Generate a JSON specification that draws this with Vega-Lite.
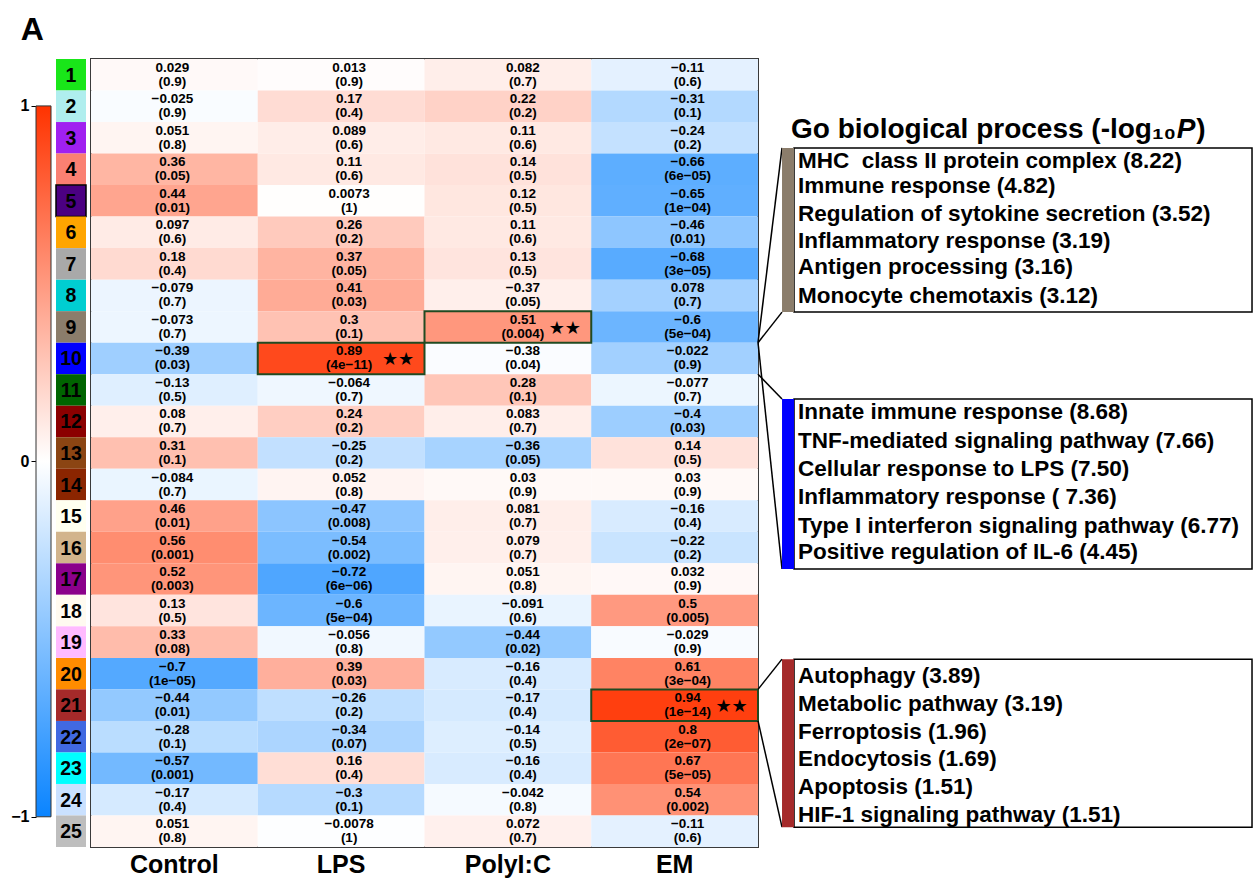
{
  "$schema": "https://vega.github.io/schema/vega-lite/v6.json",
  "background": "white",
  "padding": {"left": 10, "top": 14, "right": 0, "bottom": 0},
  "title": {"text": "A", "anchor": "start", "fontSize": 32, "fontWeight": "bold", "font": "Liberation Sans", "color": "black", "offset": 10, "dx": 10, "dy": -1},
  "config": {"view": {"stroke": null}, "font": "Liberation Sans"},
  "datasets": {
    "cells": [
      {"m":1,"c":"Control","r":0.029,"v":0.029,"p":"(0.9)"},{"m":1,"c":"LPS","r":0.013,"v":0.013,"p":"(0.9)"},{"m":1,"c":"PolyI:C","r":0.082,"v":0.082,"p":"(0.7)"},{"m":1,"c":"EM","r":-0.11,"v":-0.11,"p":"(0.6)"},
      {"m":2,"c":"Control","r":-0.025,"v":-0.025,"p":"(0.9)"},{"m":2,"c":"LPS","r":0.17,"v":0.17,"p":"(0.4)"},{"m":2,"c":"PolyI:C","r":0.22,"v":0.22,"p":"(0.2)"},{"m":2,"c":"EM","r":-0.31,"v":-0.31,"p":"(0.1)"},
      {"m":3,"c":"Control","r":0.051,"v":0.051,"p":"(0.8)"},{"m":3,"c":"LPS","r":0.089,"v":0.089,"p":"(0.6)"},{"m":3,"c":"PolyI:C","r":0.11,"v":0.11,"p":"(0.6)"},{"m":3,"c":"EM","r":-0.24,"v":-0.24,"p":"(0.2)"},
      {"m":4,"c":"Control","r":0.36,"v":0.36,"p":"(0.05)"},{"m":4,"c":"LPS","r":0.11,"v":0.11,"p":"(0.6)"},{"m":4,"c":"PolyI:C","r":0.14,"v":0.14,"p":"(0.5)"},{"m":4,"c":"EM","r":-0.66,"v":-0.66,"p":"(6e−05)"},
      {"m":5,"c":"Control","r":0.44,"v":0.44,"p":"(0.01)"},{"m":5,"c":"LPS","r":0.0073,"v":0.0073,"p":"(1)"},{"m":5,"c":"PolyI:C","r":0.12,"v":0.12,"p":"(0.5)"},{"m":5,"c":"EM","r":-0.65,"v":-0.65,"p":"(1e−04)"},
      {"m":6,"c":"Control","r":0.097,"v":0.097,"p":"(0.6)"},{"m":6,"c":"LPS","r":0.26,"v":0.26,"p":"(0.2)"},{"m":6,"c":"PolyI:C","r":0.11,"v":0.11,"p":"(0.6)"},{"m":6,"c":"EM","r":-0.46,"v":-0.46,"p":"(0.01)"},
      {"m":7,"c":"Control","r":0.18,"v":0.18,"p":"(0.4)"},{"m":7,"c":"LPS","r":0.37,"v":0.37,"p":"(0.05)"},{"m":7,"c":"PolyI:C","r":0.13,"v":0.13,"p":"(0.5)"},{"m":7,"c":"EM","r":-0.68,"v":-0.68,"p":"(3e−05)"},
      {"m":8,"c":"Control","r":-0.079,"v":-0.079,"p":"(0.7)"},{"m":8,"c":"LPS","r":0.41,"v":0.41,"p":"(0.03)"},{"m":8,"c":"PolyI:C","r":-0.37,"v":0.078,"p":"(0.05)"},{"m":8,"c":"EM","r":0.078,"v":-0.37,"p":"(0.7)"},
      {"m":9,"c":"Control","r":-0.073,"v":-0.073,"p":"(0.7)"},{"m":9,"c":"LPS","r":0.3,"v":0.3,"p":"(0.1)"},{"m":9,"c":"PolyI:C","r":0.51,"v":0.51,"p":"(0.004)","s":1},{"m":9,"c":"EM","r":-0.6,"v":-0.6,"p":"(5e−04)"},
      {"m":10,"c":"Control","r":-0.39,"v":-0.39,"p":"(0.03)"},{"m":10,"c":"LPS","r":0.89,"v":0.89,"p":"(4e−11)","s":1},{"m":10,"c":"PolyI:C","r":-0.38,"v":-0.022,"p":"(0.04)"},{"m":10,"c":"EM","r":-0.022,"v":-0.38,"p":"(0.9)"},
      {"m":11,"c":"Control","r":-0.13,"v":-0.13,"p":"(0.5)"},{"m":11,"c":"LPS","r":-0.064,"v":-0.064,"p":"(0.7)"},{"m":11,"c":"PolyI:C","r":0.28,"v":0.28,"p":"(0.1)"},{"m":11,"c":"EM","r":-0.077,"v":-0.077,"p":"(0.7)"},
      {"m":12,"c":"Control","r":0.08,"v":0.08,"p":"(0.7)"},{"m":12,"c":"LPS","r":0.24,"v":0.24,"p":"(0.2)"},{"m":12,"c":"PolyI:C","r":0.083,"v":0.083,"p":"(0.7)"},{"m":12,"c":"EM","r":-0.4,"v":-0.4,"p":"(0.03)"},
      {"m":13,"c":"Control","r":0.31,"v":0.31,"p":"(0.1)"},{"m":13,"c":"LPS","r":-0.25,"v":-0.25,"p":"(0.2)"},{"m":13,"c":"PolyI:C","r":-0.36,"v":-0.36,"p":"(0.05)"},{"m":13,"c":"EM","r":0.14,"v":0.14,"p":"(0.5)"},
      {"m":14,"c":"Control","r":-0.084,"v":-0.084,"p":"(0.7)"},{"m":14,"c":"LPS","r":0.052,"v":0.052,"p":"(0.8)"},{"m":14,"c":"PolyI:C","r":0.03,"v":0.03,"p":"(0.9)"},{"m":14,"c":"EM","r":0.03,"v":0.03,"p":"(0.9)"},
      {"m":15,"c":"Control","r":0.46,"v":0.46,"p":"(0.01)"},{"m":15,"c":"LPS","r":-0.47,"v":-0.47,"p":"(0.008)"},{"m":15,"c":"PolyI:C","r":0.081,"v":0.081,"p":"(0.7)"},{"m":15,"c":"EM","r":-0.16,"v":-0.16,"p":"(0.4)"},
      {"m":16,"c":"Control","r":0.56,"v":0.56,"p":"(0.001)"},{"m":16,"c":"LPS","r":-0.54,"v":-0.54,"p":"(0.002)"},{"m":16,"c":"PolyI:C","r":0.079,"v":0.079,"p":"(0.7)"},{"m":16,"c":"EM","r":-0.22,"v":-0.22,"p":"(0.2)"},
      {"m":17,"c":"Control","r":0.52,"v":0.52,"p":"(0.003)"},{"m":17,"c":"LPS","r":-0.72,"v":-0.72,"p":"(6e−06)"},{"m":17,"c":"PolyI:C","r":0.051,"v":0.051,"p":"(0.8)"},{"m":17,"c":"EM","r":0.032,"v":0.032,"p":"(0.9)"},
      {"m":18,"c":"Control","r":0.13,"v":0.13,"p":"(0.5)"},{"m":18,"c":"LPS","r":-0.6,"v":-0.6,"p":"(5e−04)"},{"m":18,"c":"PolyI:C","r":-0.091,"v":-0.091,"p":"(0.6)"},{"m":18,"c":"EM","r":0.5,"v":0.5,"p":"(0.005)"},
      {"m":19,"c":"Control","r":0.33,"v":0.33,"p":"(0.08)"},{"m":19,"c":"LPS","r":-0.056,"v":-0.056,"p":"(0.8)"},{"m":19,"c":"PolyI:C","r":-0.44,"v":-0.44,"p":"(0.02)"},{"m":19,"c":"EM","r":-0.029,"v":-0.029,"p":"(0.9)"},
      {"m":20,"c":"Control","r":-0.7,"v":-0.7,"p":"(1e−05)"},{"m":20,"c":"LPS","r":0.39,"v":0.39,"p":"(0.03)"},{"m":20,"c":"PolyI:C","r":-0.16,"v":-0.16,"p":"(0.4)"},{"m":20,"c":"EM","r":0.61,"v":0.61,"p":"(3e−04)"},
      {"m":21,"c":"Control","r":-0.44,"v":-0.44,"p":"(0.01)"},{"m":21,"c":"LPS","r":-0.26,"v":-0.26,"p":"(0.2)"},{"m":21,"c":"PolyI:C","r":-0.17,"v":-0.17,"p":"(0.4)"},{"m":21,"c":"EM","r":0.94,"v":0.94,"p":"(1e−14)","s":1},
      {"m":22,"c":"Control","r":-0.28,"v":-0.28,"p":"(0.1)"},{"m":22,"c":"LPS","r":-0.34,"v":-0.34,"p":"(0.07)"},{"m":22,"c":"PolyI:C","r":-0.14,"v":-0.14,"p":"(0.5)"},{"m":22,"c":"EM","r":0.8,"v":0.8,"p":"(2e−07)"},
      {"m":23,"c":"Control","r":-0.57,"v":-0.57,"p":"(0.001)"},{"m":23,"c":"LPS","r":0.16,"v":0.16,"p":"(0.4)"},{"m":23,"c":"PolyI:C","r":-0.16,"v":-0.16,"p":"(0.4)"},{"m":23,"c":"EM","r":0.67,"v":0.67,"p":"(5e−05)"},
      {"m":24,"c":"Control","r":-0.17,"v":-0.17,"p":"(0.4)"},{"m":24,"c":"LPS","r":-0.3,"v":-0.3,"p":"(0.1)"},{"m":24,"c":"PolyI:C","r":-0.042,"v":-0.042,"p":"(0.8)"},{"m":24,"c":"EM","r":0.54,"v":0.54,"p":"(0.002)"},
      {"m":25,"c":"Control","r":0.051,"v":0.051,"p":"(0.8)"},{"m":25,"c":"LPS","r":-0.0078,"v":-0.0078,"p":"(1)"},{"m":25,"c":"PolyI:C","r":0.072,"v":0.072,"p":"(0.7)"},{"m":25,"c":"EM","r":-0.11,"v":-0.11,"p":"(0.6)"}
    ],
    "links": [
      {"x":0,"y":9,"x2":4.82,"y2":2.82},
      {"x":0,"y":9,"x2":4.82,"y2":8.03},
      {"x":0,"y":10,"x2":4.82,"y2":10.79},
      {"x":0,"y":9,"x2":4.82,"y2":16.18},
      {"x":0,"y":20,"x2":4.82,"y2":19.04},
      {"x":0,"y":21,"x2":4.82,"y2":24.37}
    ],
    "boxes": [
      {"m":9,"bx":4.82,"x":7.23,"x2":99.2,"y":2.82,"y2":8.03},
      {"m":10,"bx":4.82,"x":7.23,"x2":99.2,"y":10.79,"y2":16.18},
      {"m":21,"bx":4.82,"x":7.23,"x2":99.2,"y":19.04,"y2":24.37}
    ],
    "terms": [
      {"x":8.03,"y":3.24,"t":"MHC\u00a0\u00a0class II protein complex (8.22)"},
      {"x":8.03,"y":4.03,"t":"Immune response (4.82)"},
      {"x":8.03,"y":4.92,"t":"Regulation of sytokine secretion (3.52)"},
      {"x":8.03,"y":5.77,"t":"Inflammatory response (3.19)"},
      {"x":8.03,"y":6.6,"t":"Antigen processing (3.16)"},
      {"x":8.03,"y":7.52,"t":"Monocyte chemotaxis (3.12)"},
      {"x":8.03,"y":11.2,"t":"Innate immune response (8.68)"},
      {"x":8.03,"y":12.12,"t":"TNF-mediated signaling pathway (7.66)"},
      {"x":8.03,"y":13.01,"t":"Cellular response to LPS (7.50)"},
      {"x":8.03,"y":13.9,"t":"Inflammatory response ( 7.36)"},
      {"x":8.03,"y":14.82,"t":"Type I interferon signaling pathway (6.77)"},
      {"x":8.03,"y":15.64,"t":"Positive regulation of IL-6 (4.45)"},
      {"x":8.03,"y":19.58,"t":"Autophagy (3.89)"},
      {"x":8.03,"y":20.46,"t":"Metabolic pathway (3.19)"},
      {"x":8.03,"y":21.35,"t":"Ferroptosis (1.96)"},
      {"x":8.03,"y":22.21,"t":"Endocytosis (1.69)"},
      {"x":8.03,"y":23.1,"t":"Apoptosis (1.51)"},
      {"x":8.03,"y":23.98,"t":"HIF-1 signaling pathway (1.51)"}
    ],
    "heading": [
      {"x":6.63,"y":2.25,"t":"Go biological process (-log₁₀"},
      {"x":88.0,"y":2.25,"t":")"}
    ],
    "headingItalic": [
      {"x":84.1,"y":2.25,"t":"P"}
    ]
  },
  "hconcat": [
    {
      "width": 15,
      "height": 788,
      "data": {"values": [{"lo": -1, "hi": 1}]},
      "mark": {"type": "rect", "stroke": "#333333", "strokeWidth": 1,
        "fill": {"gradient": "linear", "x1": 0, "y1": 0, "x2": 0, "y2": 1,
          "stops": [{"offset": 0, "color": "#FF3300"}, {"offset": 0.5, "color": "#FFFFFF"}, {"offset": 1, "color": "#0A84FF"}]}},
      "encoding": {
        "y": {"field": "hi", "type": "quantitative",
          "scale": {"domain": [-1.085, 1.132], "nice": false, "zero": false},
          "axis": {"values": [-1, 0, 1], "format": "d", "title": null, "grid": false, "domain": false,
            "tickColor": "black", "tickSize": 5, "labelFontSize": 16, "labelFontWeight": "bold",
            "labelColor": "black", "labelPadding": 2}},
        "y2": {"field": "lo"}
      }
    },
    {
      "width": 30,
      "height": 788,
      "data": {"name": "cells"},
      "transform": [{"filter": "datum.c === 'Control'"}],
      "encoding": {
        "y": {"field": "m", "type": "ordinal", "scale": {"paddingInner": 0, "paddingOuter": 0}, "axis": null}
      },
      "layer": [
        {
          "mark": {"type": "rect", "strokeWidth": 1.5},
          "encoding": {
            "color": {"field": "m", "type": "nominal", "legend": null,
              "scale": {"domain": [1,2,3,4,5,6,7,8,9,10,11,12,13,14,15,16,17,18,19,20,21,22,23,24,25],
                "range": ["#19E619","#AFEEEE","#A020F0","#FA8072","#4B0082","#FFA500","#A9A9A9","#00CED1","#8B7D6B","#0000FF","#006400","#8B0000","#8B4513","#8B2500","#FFFFF0","#D2B48C","#8B008B","#FFFAF0","#FFBBFF","#FF8C00","#A52A2A","#4169E1","#00FFFF","#CAE1FF","#BEBEBE"]}},
            "stroke": {"condition": {"test": "datum.m === 5", "value": "#000000"}, "value": null}
          }
        },
        {
          "mark": {"type": "text", "fontSize": 19.5, "fontWeight": "bold", "color": "black", "baseline": "middle", "dy": 1},
          "encoding": {"text": {"field": "m", "type": "nominal"}}
        }
      ]
    },
    {
      "width": 667,
      "height": 788,
      "view": {"stroke": "#3a3a3a", "strokeWidth": 2},
      "data": {"name": "cells"},
      "encoding": {
        "x": {"field": "c", "type": "nominal", "sort": ["Control", "LPS", "PolyI:C", "EM"],
          "scale": {"paddingInner": 0, "paddingOuter": 0},
          "axis": {"orient": "bottom", "title": null, "labelAngle": 0, "labelFontSize": 25, "labelFontWeight": "bold",
            "labelColor": "black", "ticks": false, "domain": false, "labelPadding": 5}},
        "y": {"field": "m", "type": "ordinal", "scale": {"paddingInner": 0, "paddingOuter": 0}, "axis": null}
      },
      "layer": [
        {
          "mark": {"type": "rect"},
          "encoding": {
            "color": {"field": "v", "type": "quantitative", "legend": null,
              "scale": {"domain": [-1, 0, 1], "range": ["#0A84FF", "#FFFFFF", "#FF3300"], "interpolate": "rgb"}}
          }
        },
        {
          "transform": [{"filter": "datum.s === 1"}],
          "mark": {"type": "rect", "filled": false, "stroke": "#214A21", "strokeWidth": 2}
        },
        {
          "transform": [{"filter": "datum.c === 'Control'"}],
          "mark": {"type": "text", "fontSize": 13.5, "fontWeight": "bold", "color": "black", "baseline": "middle", "dy": -7, "dx": -2},
          "encoding": {"text": {"field": "r", "type": "quantitative", "format": ".2~g"}}
        },
        {
          "transform": [{"filter": "datum.c === 'Control'"}],
          "mark": {"type": "text", "fontSize": 13.5, "fontWeight": "bold", "color": "black", "baseline": "middle", "dy": 7, "dx": -2},
          "encoding": {"text": {"field": "p", "type": "nominal"}}
        },
        {
          "transform": [{"filter": "datum.c === 'LPS'"}],
          "mark": {"type": "text", "fontSize": 13.5, "fontWeight": "bold", "color": "black", "baseline": "middle", "dy": -7, "dx": 8},
          "encoding": {"text": {"field": "r", "type": "quantitative", "format": ".2~g"}}
        },
        {
          "transform": [{"filter": "datum.c === 'LPS'"}],
          "mark": {"type": "text", "fontSize": 13.5, "fontWeight": "bold", "color": "black", "baseline": "middle", "dy": 7, "dx": 8},
          "encoding": {"text": {"field": "p", "type": "nominal"}}
        },
        {
          "transform": [{"filter": "datum.c === 'PolyI:C'"}],
          "mark": {"type": "text", "fontSize": 13.5, "fontWeight": "bold", "color": "black", "baseline": "middle", "dy": -7, "dx": 15},
          "encoding": {"text": {"field": "r", "type": "quantitative", "format": ".2~g"}}
        },
        {
          "transform": [{"filter": "datum.c === 'PolyI:C'"}],
          "mark": {"type": "text", "fontSize": 13.5, "fontWeight": "bold", "color": "black", "baseline": "middle", "dy": 7, "dx": 15},
          "encoding": {"text": {"field": "p", "type": "nominal"}}
        },
        {
          "transform": [{"filter": "datum.c === 'EM'"}],
          "mark": {"type": "text", "fontSize": 13.5, "fontWeight": "bold", "color": "black", "baseline": "middle", "dy": -7, "dx": 13},
          "encoding": {"text": {"field": "r", "type": "quantitative", "format": ".2~g"}}
        },
        {
          "transform": [{"filter": "datum.c === 'EM'"}],
          "mark": {"type": "text", "fontSize": 13.5, "fontWeight": "bold", "color": "black", "baseline": "middle", "dy": 7, "dx": 13},
          "encoding": {"text": {"field": "p", "type": "nominal"}}
        },
        {
          "transform": [{"filter": "datum.s === 1"}],
          "mark": {"type": "text", "text": "★★", "font": "DejaVu Sans", "fontSize": 18, "color": "black", "baseline": "middle", "dx": 57, "dy": 2}
        }
      ]
    },
    {
      "width": 493,
      "height": 788,
      "encoding": {
        "x": {"field": "x", "type": "quantitative", "scale": {"domain": [1.0, 100], "nice": false, "zero": false}, "axis": null},
        "y": {"field": "y", "type": "quantitative", "scale": {"domain": [0, 25], "reverse": true, "nice": false, "zero": false}, "axis": null}
      },
      "layer": [
        {
          "data": {"name": "links"},
          "mark": {"type": "rule", "color": "black", "strokeWidth": 1.5},
          "encoding": {"x2": {"field": "x2"}, "y2": {"field": "y2"}}
        },
        {
          "data": {"name": "boxes"},
          "mark": {"type": "rect", "filled": false, "stroke": "black", "strokeWidth": 1.5},
          "encoding": {"x2": {"field": "x2"}, "y2": {"field": "y2"}}
        },
        {
          "data": {"name": "boxes"},
          "mark": {"type": "rect"},
          "encoding": {
            "x": {"field": "bx", "type": "quantitative"},
            "x2": {"field": "x"},
            "y2": {"field": "y2"},
            "color": {"field": "m", "type": "nominal", "legend": null,
              "scale": {"domain": [9, 10, 21], "range": ["#8B7D6B", "#0000FF", "#A52A2A"]}}
          }
        },
        {
          "data": {"name": "terms"},
          "mark": {"type": "text", "align": "left", "baseline": "middle", "fontSize": 22.5, "fontWeight": "bold", "color": "black"},
          "encoding": {"text": {"field": "t", "type": "nominal"}}
        },
        {
          "data": {"name": "heading"},
          "mark": {"type": "text", "align": "left", "baseline": "middle", "fontSize": 28, "fontWeight": "bold", "color": "black"},
          "encoding": {"text": {"field": "t", "type": "nominal"}}
        },
        {
          "data": {"name": "headingItalic"},
          "mark": {"type": "text", "align": "left", "baseline": "middle", "fontSize": 28, "fontWeight": "bold", "fontStyle": "italic", "color": "black"},
          "encoding": {"text": {"field": "t", "type": "nominal"}}
        }
      ]
    }
  ],
  "spacing": 5,
  "bounds": "flush"
}
